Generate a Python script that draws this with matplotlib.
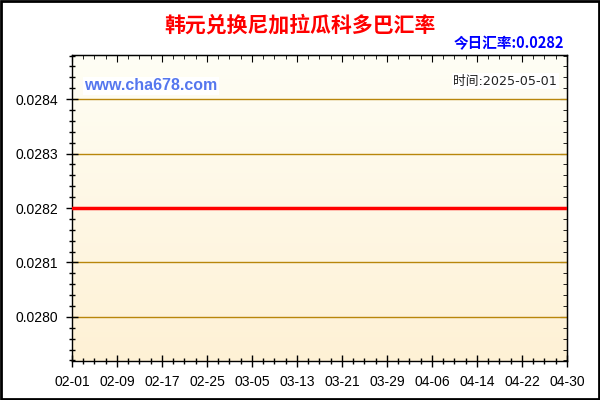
import numpy as np
import pandas as pd
import matplotlib
matplotlib.use('Agg')
import matplotlib.pyplot as plt
import matplotlib.dates as mdates
from matplotlib.ticker import MultipleLocator

plt.rcParams['font.family'] = ['Liberation Sans', 'Noto Sans CJK SC', 'DejaVu Sans']

title = '韩元兑换尼加拉瓜科多巴汇率'
today_label = '今日汇率:0.0282'
site = 'www.cha678.com'
stamp = '时间:2025-05-01'

dates = pd.date_range('2025-02-01', '2025-04-30', freq='D')
rates = [
    0.0282, 0.0282, 0.0282, 0.0282, 0.0282, 0.0282, 0.0282, 0.0282, 0.0282, 0.0282,
    0.0282, 0.0282, 0.0282, 0.0282, 0.0282, 0.0282, 0.0282, 0.0282, 0.0282, 0.0282,
    0.0282, 0.0282, 0.0282, 0.0282, 0.0282, 0.0282, 0.0282, 0.0282, 0.0282, 0.0282,
    0.0282, 0.0282, 0.0282, 0.0282, 0.0282, 0.0282, 0.0282, 0.0282, 0.0282, 0.0282,
    0.0282, 0.0282, 0.0282, 0.0282, 0.0282, 0.0282, 0.0282, 0.0282, 0.0282, 0.0282,
    0.0282, 0.0282, 0.0282, 0.0282, 0.0282, 0.0282, 0.0282, 0.0282, 0.0282, 0.0282,
    0.0282, 0.0282, 0.0282, 0.0282, 0.0282, 0.0282, 0.0282, 0.0282, 0.0282, 0.0282,
    0.0282, 0.0282, 0.0282, 0.0282, 0.0282, 0.0282, 0.0282, 0.0282, 0.0282, 0.0282,
    0.0282, 0.0282, 0.0282, 0.0282, 0.0282, 0.0282, 0.0282, 0.0282, 0.0282,
]
yticks = [0.0280, 0.0281, 0.0282, 0.0283, 0.0284]

fig = plt.figure(figsize=(6, 4), dpi=100)
fig.patch.set_facecolor('white')
# outer frame
fig.add_artist(plt.Rectangle((0.001, 0.002), 0.997, 0.995, transform=fig.transFigure,
                             fill=False, edgecolor='black', linewidth=2))

ax = fig.add_axes([0.12, 0.0975, 0.825, 0.765])
ymin, ymax = 0.027919, 0.028481
x0, x1 = mdates.date2num(dates[0]), mdates.date2num(dates[-1])

# pale gradient background
grad = np.linspace(0, 1, 256).reshape(-1, 1)
top = np.array([255, 254, 245]) / 255
bot = np.array([254, 241, 213]) / 255
img = top + (bot - top) * grad[:, :, None]
ax.imshow(img, extent=[x0, x1, ymin, ymax], aspect='auto', origin='upper', zorder=0)

for y in yticks:
    ax.axhline(y, color='#B8860B', linewidth=1, zorder=1)

ax.plot(mdates.date2num(dates), rates, color='#FF0000', linewidth=2.5, zorder=3)

ax.set_xlim(x0, x1)
ax.set_ylim(ymin, ymax)
ax.set_yticks(yticks)
ax.set_yticklabels(['%.4f' % y for y in yticks])
ax.yaxis.set_minor_locator(MultipleLocator(0.00002))
ax.set_xticks(mdates.date2num(dates[::8]))
ax.set_xticklabels([d.strftime('%m-%d') for d in dates[::8]])
ax.xaxis.set_minor_locator(MultipleLocator(2))

ax.tick_params(axis='both', which='major', direction='inout', length=8, width=1,
               labelsize=10, colors='black')
ax.tick_params(axis='both', which='minor', direction='inout', length=5, width=1)
ax.tick_params(axis='y', which='major', pad=6)
ax.tick_params(axis='x', which='major', pad=6)

# inward ticks on the top and right edges
sec_x = ax.secondary_xaxis('top')
sec_x.set_xticks(mdates.date2num(dates[::8]))
sec_x.xaxis.set_minor_locator(MultipleLocator(2))
sec_x.tick_params(which='major', direction='in', length=5, labeltop=False)
sec_x.tick_params(which='minor', direction='in', length=3)
sec_y = ax.secondary_yaxis('right')
sec_y.set_yticks(yticks)
sec_y.yaxis.set_minor_locator(MultipleLocator(0.00002))
sec_y.tick_params(which='major', direction='in', length=5, labelright=False)
sec_y.tick_params(which='minor', direction='in', length=3)

for s in ax.spines.values():
    s.set_linewidth(1)
    s.set_color('black')

fig.text(0.5, 0.938, title, ha='center', va='center', color='#FF0000', fontsize=15,
         fontweight='bold', family=['Noto Sans CJK SC', 'DejaVu Sans'])
fig.text(0.94, 0.893, today_label, ha='right', va='center', color='#0000FF', fontsize=10.5,
         fontweight='bold', family=['Noto Sans CJK SC', 'DejaVu Sans'])
ax.text(0.025, 0.9, site, transform=ax.transAxes, ha='left', va='center', color='#5577EE',
        fontsize=11.5, fontweight='bold', zorder=5,
        bbox=dict(facecolor='white', edgecolor='none', pad=1))
ax.text(0.98, 0.915, stamp, transform=ax.transAxes, ha='right', va='center', color='#222222',
        fontsize=9.2, zorder=5, family=['DejaVu Sans', 'Noto Sans CJK SC'],
        bbox=dict(facecolor='white', edgecolor='none', pad=1))

fig.savefig('out.png', dpi=100)
